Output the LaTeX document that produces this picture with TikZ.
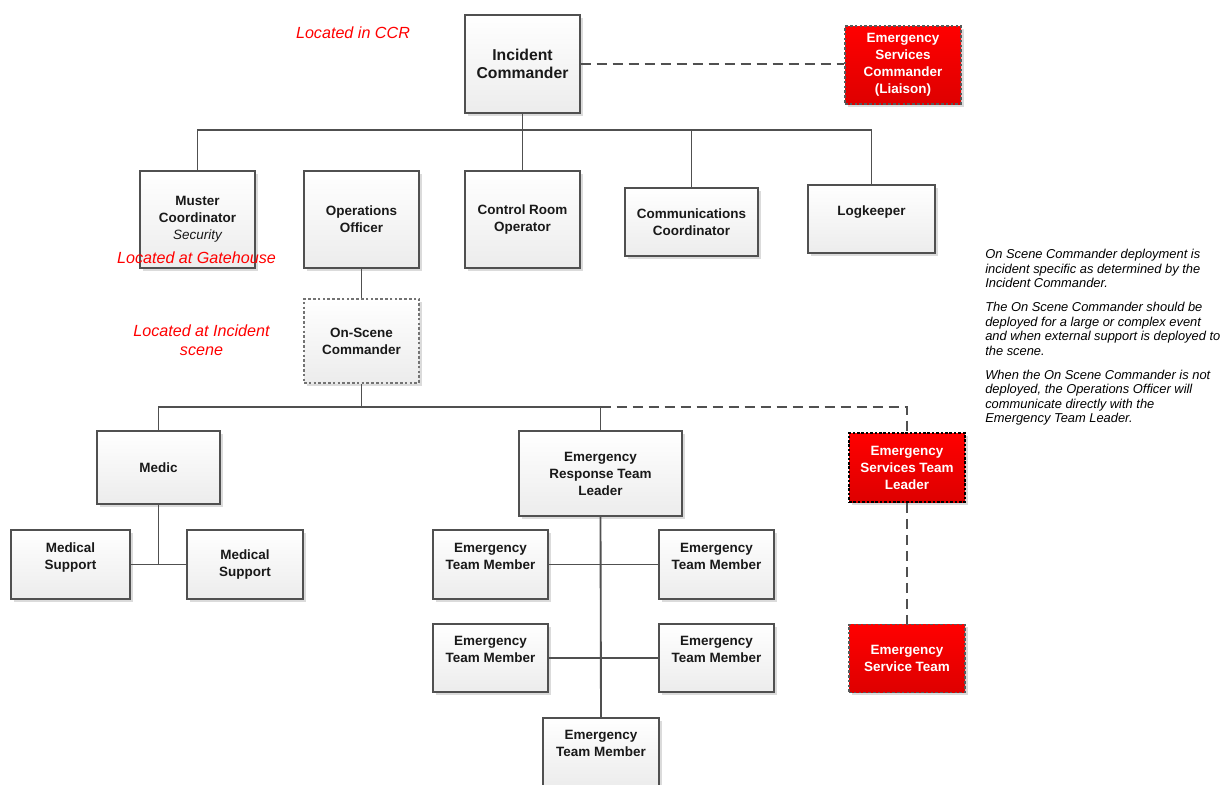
\documentclass[tikz,border=0pt]{standalone}
\usepackage{fontspec}
\setmainfont{Liberation Sans}
\usepackage{tikz}
\usetikzlibrary{shadows, positioning, calc}
\definecolor{linegray}{RGB}{80, 80, 80}
\definecolor{edgegray}{RGB}{80, 80, 80}
\definecolor{shadegray}{RGB}{236, 236, 236}
\definecolor{esred}{RGB}{255, 0, 0}
\definecolor{esreddark}{RGB}{222, 0, 0}

\begin{document}
\begin{tikzpicture}[
    x=0.75pt, y=-0.75pt,
    role/.style={rectangle, draw=edgegray, line width=0.9pt, top color=white, bottom color=shadegray, inner sep=0pt, align=center, text=black!90, font=\fontsize{10.1}{12.75}\selectfont\bfseries, drop shadow={shadow xshift=2.2pt, shadow yshift=-2.2pt, fill=black!14, opacity=1}},
    ext/.style={rectangle, draw=black!65, line width=1pt, dash pattern=on 2pt off 1.6pt, top color=esred, bottom color=esreddark, inner sep=0pt, align=center, text=white, font=\fontsize{10.1}{12.75}\selectfont\bfseries, drop shadow={shadow xshift=2.2pt, shadow yshift=-2.2pt, fill=black!14, opacity=1}},
    size/.style 2 args={minimum width=#1*0.75pt, minimum height=#2*0.75pt},
    place/.style={text=red, align=center, font=\fontsize{12.1}{14.25}\selectfont\itshape},
    link/.style={draw=linegray, line width=1.4pt},
    liaison/.style={link, dash pattern=on 7.5pt off 4.5pt}
]
\path[use as bounding box, fill=white] (0,0) rectangle (1222,785);

\node[role, size={115}{98}, font=\fontsize{11.8}{13.5}\selectfont\bfseries] (IC) at (522.5,64) {Incident\\Commander};
\node[ext, size={116}{78}] (ESC) at (903,65) {Emergency\\Services\\Commander\\(Liaison)};

\node[role, size={115}{97}] (MC) at (197.5,219.5) {Muster\\Coordinator\\{\normalfont\itshape Security}};
\node[role, size={115}{97}] (OO) at (361.5,219.5) {Operations\\Officer};
\node[role, size={115}{97}] (CRO) at (522.5,219.5) {Control Room\\Operator};
\node[role, size={133}{68}] (CC) at (691.5,222) {Communications\\Coordinator};
\node[role, size={127}{68}] (LK) at (871.5,219) {Logkeeper\\\mbox{}};

\node[role, size={115}{84}, dash pattern=on 2pt off 1.6pt, draw=black!55] (OSC) at (361.5,341) {On-Scene\\Commander};

\node[role, size={123}{73}] (MED) at (158.5,467.5) {Medic};
\node[role, size={163}{85}] (ERTL) at (600.5,473.5) {Emergency\\Response Team\\Leader};
\node[ext, size={116}{69}, draw=black, line width=1.2pt, dash pattern=on 2pt off 1.3pt] (ESTL) at (907,467.5) {Emergency\\Services Team\\Leader};

\node[role, size={119}{69}] (MS1) at (70.5,564.5) {Medical\\Support\\\mbox{}};
\node[role, size={116}{69}] (MS2) at (245,564.5) {Medical\\Support};

\node[role, size={115}{69}] (ETM1) at (490.5,564.5) {Emergency\\Team Member\\\mbox{}};
\node[role, size={115}{69}] (ETM2) at (716.5,564.5) {Emergency\\Team Member\\\mbox{}};
\node[role, size={115}{68}] (ETM3) at (490.5,658) {Emergency\\Team Member\\\mbox{}};
\node[role, size={115}{68}] (ETM4) at (716.5,658) {Emergency\\Team Member\\\mbox{}};
\node[role, size={116}{68}] (ETM5) at (601,752) {Emergency\\Team Member\\\mbox{}};

\node[ext, size={116}{68}] (EST) at (907,658.5) {Emergency\\Service Team};

\node[place] (locCCR) at (353,33) {Located in CCR};
\node[place] (locGate) at (196.5,258) {Located at Gatehouse};
\node[place] (locScene) at (201.5,340.5) {Located at Incident\\scene};

\node[anchor=north west, inner sep=0pt, align=left, font=\fontsize{9.67}{10.9}\selectfont\itshape] (note) at (985,249) {On Scene Commander deployment is\\incident specific as determined by the\\Incident Commander.\\[7pt]The On Scene Commander should be\\deployed for a large or complex event\\and when external support is deployed to\\the scene.\\[7pt]When the On Scene Commander is not\\deployed, the Operations Officer will\\communicate directly with the\\Emergency Team Leader.};

\coordinate (topbus) at (0,130);
\coordinate (midbus) at (0,407);

\draw[link] (MC.north) -- (MC.north |- topbus) -- (LK.north |- topbus) -- (LK.north);
\draw[link] (IC.south) -- (CRO.north);
\draw[link] (CC.north) -- (CC.north |- topbus);
\draw[liaison] (IC.east) -- (IC.east -| ESC.west);

\draw[link] (OO.south) -- (OSC.north);
\draw[link] (MED.north) -- (MED.north |- midbus) -- (ERTL.north |- midbus) -- (ERTL.north);
\draw[link] (OSC.south) -- (OSC.south |- midbus);
\draw[liaison] (ERTL.north |- midbus) -| (ESTL.north);
\draw[liaison] (ESTL.south) -- (EST.north);

\draw[link] (MED.south) -- (MED.south |- MS1.east);
\draw[link] (MS1.east) -- (MS2.west);

\draw[link] (ERTL.south) -- (ETM5.north);
\draw[link] (ETM1.east) -- (ETM2.west);
\draw[link] (ETM3.east) -- (ETM4.west);
\end{tikzpicture}
\end{document}
